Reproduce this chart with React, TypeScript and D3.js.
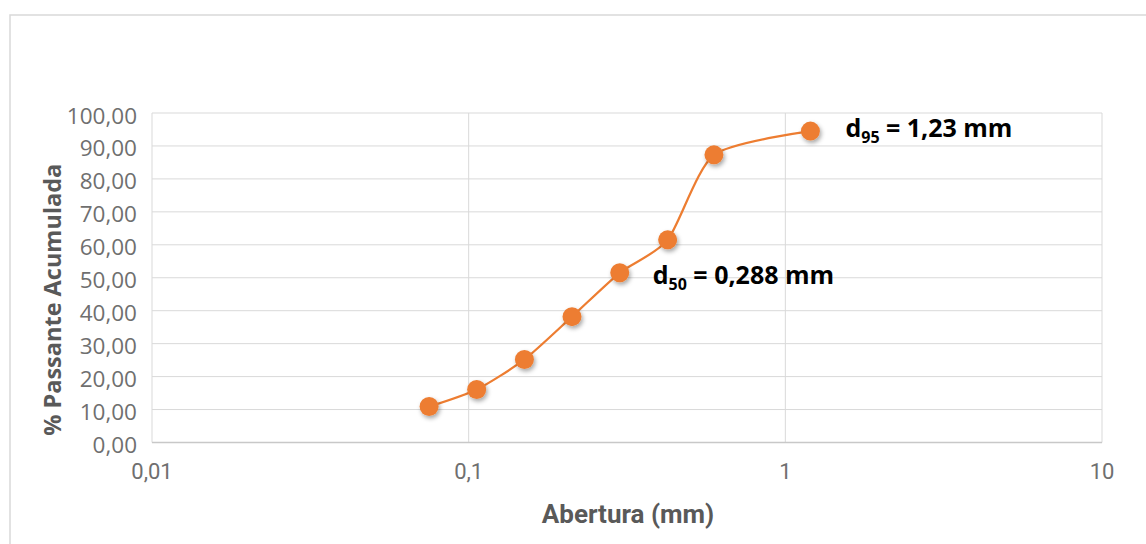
import React from "react";
import * as d3 from "d3";

const aberturas = [0.075, 0.106, 0.15, 0.212, 0.3, 0.425, 0.595, 1.2];
const passante = [10.9, 16.1, 25.2, 38.2, 51.5, 61.5, 87.3, 94.5];
const yTicks = [0, 10, 20, 30, 40, 50, 60, 70, 80, 90, 100];
const xTicks = [0.01, 0.1, 1, 10];
const xTickLabels = ["0,01", "0,1", "1", "10"];
const annotations = [
  { idx: 7, sub: "95", rest: " = 1,23 mm", dx: 35, dy: 6 },
  { idx: 4, sub: "50", rest: " = 0,288 mm", dx: 33, dy: 11 },
];

const W = 1146;
const H = 544;
const left = 152;
const right = 1102;
const top = 113;
const bottom = 442.5;

export default function App() {
  const x = d3.scaleLog().domain([0.01, 10]).range([left, right]);
  const y = d3.scaleLinear().domain([0, 100]).range([bottom, top]);
  const pts: [number, number][] = aberturas.map((a, i) => [x(a), y(passante[i])]);
  const line = d3.line().curve(d3.curveCardinal.tension(0.3))(pts) || "";
  const fmt = (v: number) => d3.format(".2f")(v).replace(".", ",");
  const grid = "#d9d9d9";
  const tickColor = "#6f6f6f";

  return (
    <svg
      width={W}
      height={H}
      style={{ position: "fixed", left: 0, top: 0, background: "#fff" }}
    >
      <defs>
        <filter id="sh" x="-50%" y="-50%" width="200%" height="200%">
          <feDropShadow dx="1.5" dy="2.5" stdDeviation="2" floodColor="#000" floodOpacity="0.35" />
        </filter>
      </defs>
      <rect x={0} y={0} width={W} height={H} fill="#fff" />
      <rect x={10} y={15} width={W + 20} height={H + 20} fill="none" stroke="#d9d9d9" strokeWidth={1.5} />

      {yTicks.map((t) => (
        <line key={"gy" + t} x1={left} x2={right} y1={y(t)} y2={y(t)} stroke={grid} strokeWidth={1} />
      ))}
      {xTicks.map((t) => (
        <line key={"gx" + t} x1={x(t)} x2={x(t)} y1={top} y2={bottom} stroke={grid} strokeWidth={1} />
      ))}
      <line x1={left} x2={right} y1={bottom} y2={bottom} stroke="#c8c8c8" strokeWidth={1.5} />

      {yTicks.map((t) => (
        <text
          key={"ty" + t}
          x={137}
          y={y(t) + 2}
          textAnchor="end"
          dominantBaseline="central"
          fontFamily="'Open Sans', sans-serif"
          fontSize={22.5}
          fill={tickColor}
        >
          {fmt(t)}
        </text>
      ))}
      {xTicks.map((t, i) => (
        <text
          key={"tx" + t}
          x={x(t)}
          y={479}
          textAnchor="middle"
          fontFamily="'Liberation Sans Narrow', 'Roboto', sans-serif"
          fontSize={22}
          fill={tickColor}
        >
          {xTickLabels[i]}
        </text>
      ))}

      <text
        x={(left + right) / 2 + 1}
        y={523}
        textAnchor="middle"
        fontFamily="'Liberation Sans Narrow', 'Roboto', sans-serif"
        fontWeight="bold"
        fontSize={26}
        fill="#595959"
      >
        Abertura (mm)
      </text>
      <text
        transform={`translate(61, ${(top + bottom) / 2 + 22}) rotate(-90)`}
        textAnchor="middle"
        fontFamily="'Open Sans', sans-serif"
        fontWeight="bold"
        fontSize={23.5}
        fill="#595959"
      >
        % Passante Acumulada
      </text>

      <path d={line} fill="none" stroke="#ED7D31" strokeWidth={2.25} />
      {pts.map((p, i) => (
        <circle key={"c" + i} cx={p[0]} cy={p[1]} r={9.5} fill="#ED7D31" filter="url(#sh)" />
      ))}

      {annotations.map((a) => (
        <text
          key={a.sub}
          x={pts[a.idx][0] + a.dx}
          y={pts[a.idx][1] + a.dy}
          fontFamily="'Open Sans', sans-serif"
          fontWeight="bold"
          fontSize={25}
          fill="#000"
        >
          d
          <tspan fontSize={16} dy={6}>
            {a.sub}
          </tspan>
          <tspan dy={-6}>{a.rest}</tspan>
        </text>
      ))}
    </svg>
  );
}
